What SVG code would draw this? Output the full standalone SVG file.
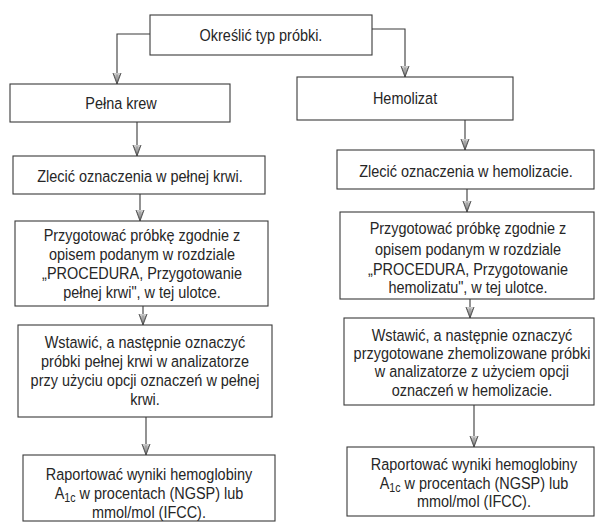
<svg xmlns="http://www.w3.org/2000/svg" width="596" height="522" viewBox="0 0 596 522">
<style>
.box{fill:#fff;stroke:#3a3a3a;stroke-width:1.1}
.t{font-family:"Liberation Sans",Arial,sans-serif;font-size:17px;fill:#262626;text-anchor:middle;transform-box:fill-box;transform-origin:center;transform:scaleX(0.85)}
.c{fill:none;stroke:#3a3a3a;stroke-width:1.1}
.sub{font-size:12.5px}
</style>
<defs>
<marker id="ah" viewBox="0 -5 12 10" refX="11.5" refY="0" markerWidth="12" markerHeight="10" markerUnits="userSpaceOnUse" orient="auto">
<path d="M0,-4.2 L11.5,0 L0,4.2 Z" fill="#c8c8c8" stroke="#444" stroke-width="0.9"/>
<path d="M2,0 L10,0 M2.5,-2.6 L10,0 L2.5,2.6" fill="none" stroke="#555" stroke-width="0.6"/>
</marker>
</defs>
<rect width="596" height="522" fill="#fff"/>

<g id="connectors">
<path class="c" d="M150,34 H117 V84" marker-end="url(#ah)"/>
<path class="c" d="M372,29 H405 V77" marker-end="url(#ah)"/>
<path class="c" d="M137,122 V156" marker-end="url(#ah)"/>
<path class="c" d="M140,194 V221" marker-end="url(#ah)"/>
<path class="c" d="M143,297 V325" marker-end="url(#ah)"/>
<path class="c" d="M146,417 V455" marker-end="url(#ah)"/>
<path class="c" d="M465,120 V150" marker-end="url(#ah)"/>
<path class="c" d="M467,189 V212" marker-end="url(#ah)"/>
<path class="c" d="M470,290 V318" marker-end="url(#ah)"/>
<path class="c" d="M474,405 V447" marker-end="url(#ah)"/>
</g>

<g id="n_start">
<rect class="box" x="150" y="15" width="222" height="40"/>
<text class="t" x="261" y="41">Określić typ próbki.</text>
</g>

<g id="n_pelna">
<rect class="box" x="10" y="84" width="220" height="38"/>
<text class="t" x="121" y="109">Pełna krew</text>
</g>

<g id="n_hemolizat">
<rect class="box" x="297" y="77" width="216" height="43"/>
<text class="t" x="405" y="104">Hemolizat</text>
</g>

<g id="n_zlecic_l">
<rect class="box" x="13" y="156" width="252" height="38"/>
<text class="t" x="140" y="182">Zlecić oznaczenia w pełnej krwi.</text>
</g>

<g id="n_przyg_l">
<rect class="box" x="15" y="221" width="253" height="85"/>
<text class="t" x="142" y="241">Przygotować próbkę zgodnie z</text>
<text class="t" x="142" y="260">opisem podanym w rozdziale</text>
<text class="t" x="142" y="279">„PROCEDURA, Przygotowanie</text>
<text class="t" x="142" y="298">pełnej krwi", w tej ulotce.</text>
</g>

<g id="n_wstaw_l">
<rect class="box" x="18" y="325" width="254" height="92"/>
<text class="t" x="145" y="348">Wstawić, a następnie oznaczyć</text>
<text class="t" x="145" y="367">próbki pełnej krwi w analizatorze</text>
<text class="t" x="145" y="386">przy użyciu opcji oznaczeń w pełnej</text>
<text class="t" x="145" y="405">krwi.</text>
</g>

<g id="n_raport_l">
<rect class="box" x="23" y="455" width="252" height="66"/>
<text class="t" x="149" y="480">Raportować wyniki hemoglobiny</text>
<text class="t" x="149" y="499">A<tspan class="sub" dy="3">1c</tspan><tspan dy="-3"> w procentach (NGSP) lub</tspan></text>
<text class="t" x="149" y="518">mmol/mol (IFCC).</text>
</g>

<g id="n_zlecic_r">
<rect class="box" x="337" y="150" width="257" height="39"/>
<text class="t" x="466" y="177">Zlecić oznaczenia w hemolizacie.</text>
</g>

<g id="n_przyg_r">
<rect class="box" x="340" y="212" width="254" height="87"/>
<text class="t" x="468" y="234">Przygotować próbkę zgodnie z</text>
<text class="t" x="468" y="255">opisem podanym w rozdziale</text>
<text class="t" x="468" y="275">„PROCEDURA, Przygotowanie</text>
<text class="t" x="468" y="293">hemolizatu", w tej ulotce.</text>
</g>

<g id="n_wstaw_r">
<rect class="box" x="344" y="318" width="250" height="87"/>
<text class="t" x="472" y="341">Wstawić, a następnie oznaczyć</text>
<text class="t" x="472" y="359">przygotowane zhemolizowane próbki</text>
<text class="t" x="472" y="377">w analizatorze z użyciem opcji</text>
<text class="t" x="472" y="396">oznaczeń w hemolizacie.</text>
</g>

<g id="n_raport_r">
<rect class="box" x="347" y="447" width="247" height="69"/>
<text class="t" x="474" y="470">Raportować wyniki hemoglobiny</text>
<text class="t" x="474" y="489">A<tspan class="sub" dy="3">1c</tspan><tspan dy="-3"> w procentach (NGSP) lub</tspan></text>
<text class="t" x="474" y="507">mmol/mol (IFCC).</text>
</g>
</svg>
